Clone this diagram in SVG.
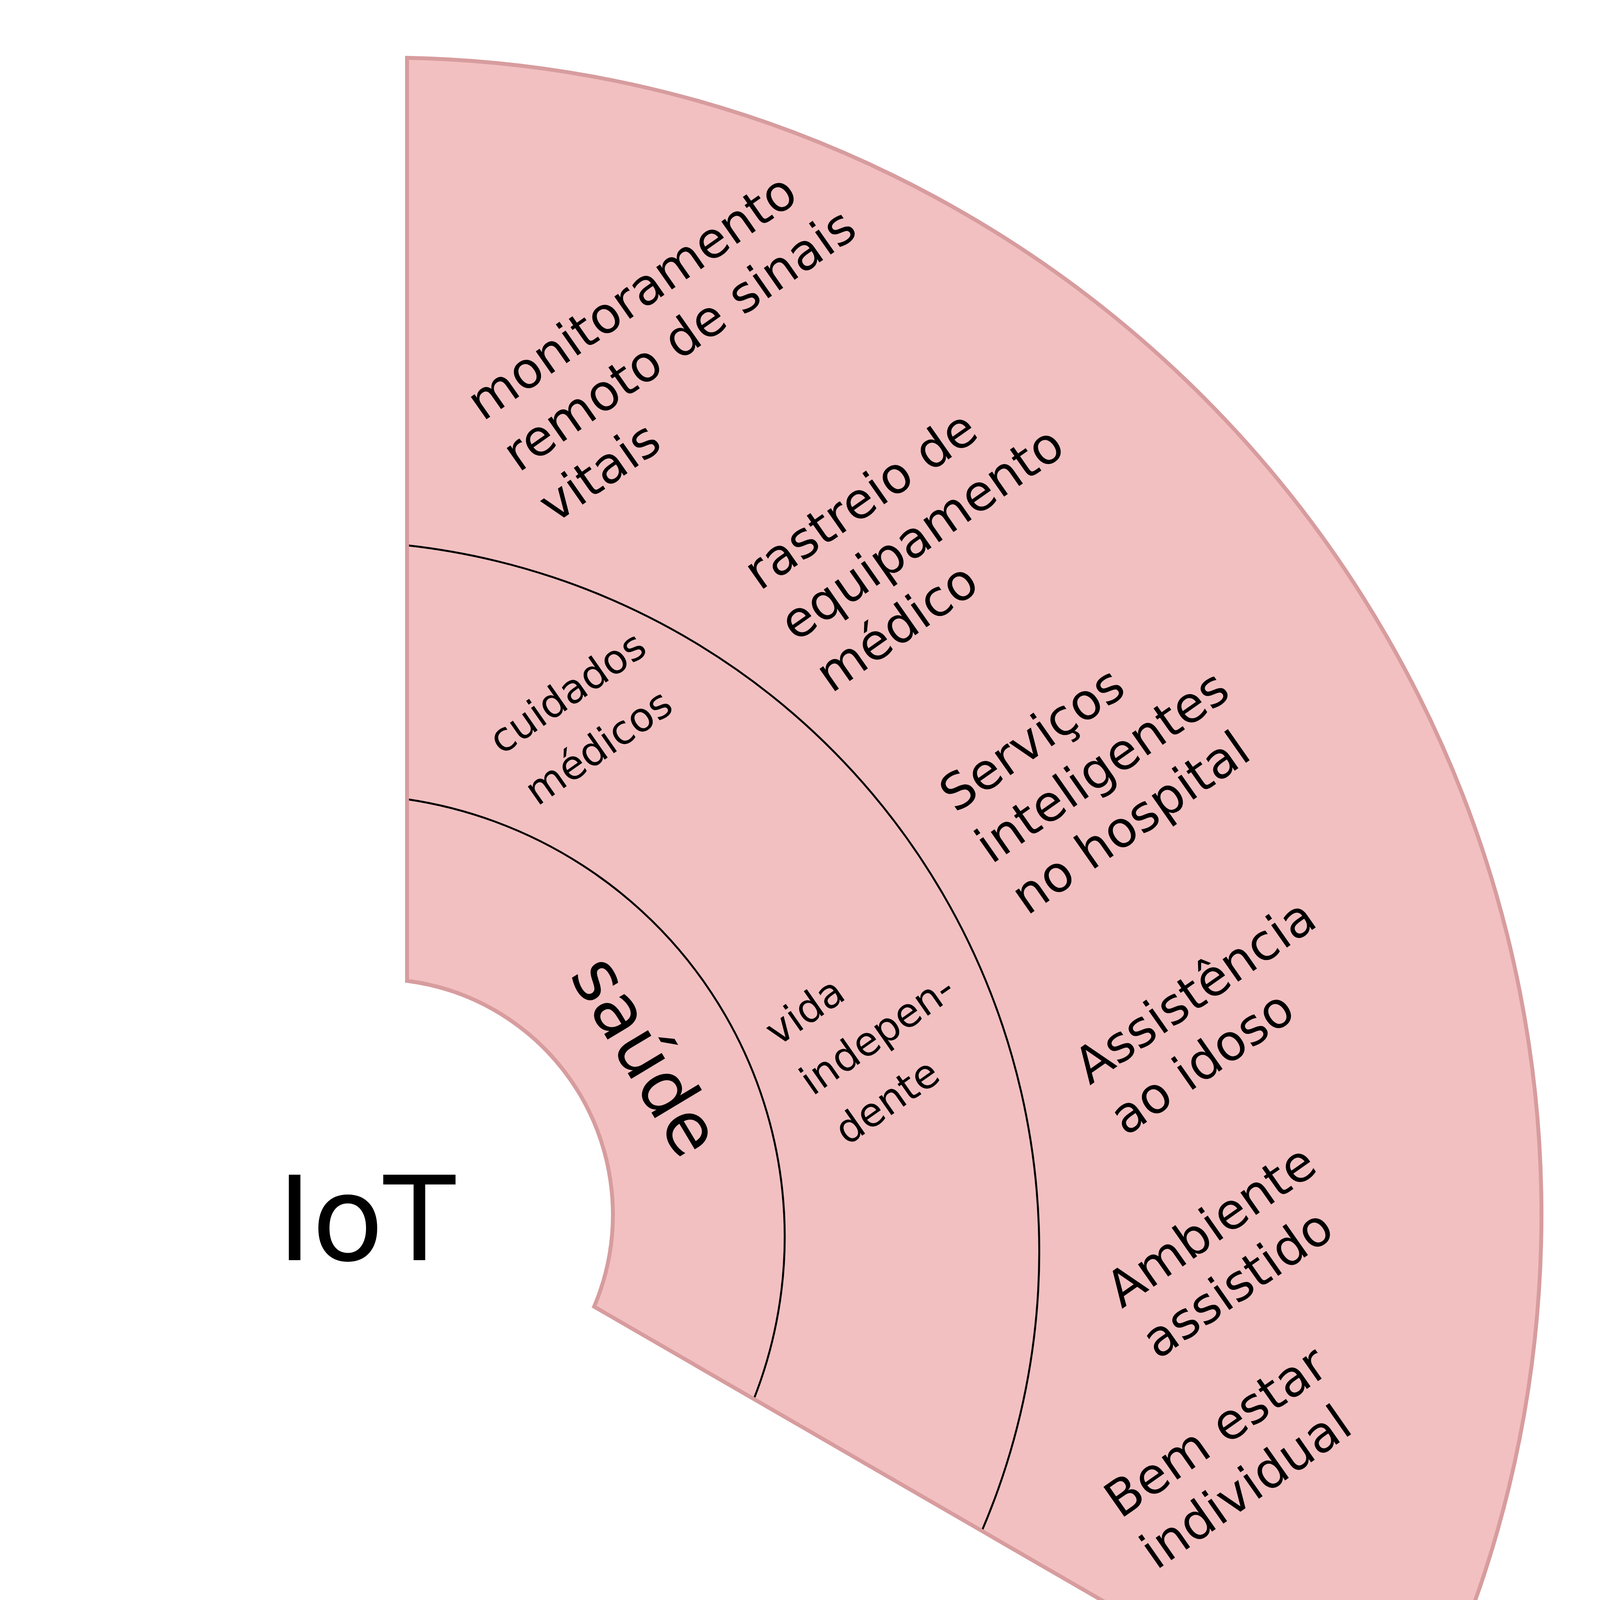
<svg xmlns="http://www.w3.org/2000/svg" width="4687" height="4687" viewBox="0 0 4687 4687">
<defs>
<style>
.lbl{font-family:"DejaVu Sans","Liberation Sans",sans-serif;fill:#000}
.big{font-size:128px}
.small{font-size:103px}
.ring{fill:none;stroke:#000;stroke-width:5}
</style>
<path id="sectorShape" d="M1042,148 A2962,2962 0 0 1 3580,4536 L1521,3345 A603,603 0 0 0 1042,2511 Z"/>
</defs>
<rect width="4687" height="4687" fill="#fff"/>
<g id="sector">
<use href="#sectorShape" fill="#f2c0c1" stroke="none"/>
</g>
<g id="connectors">
<path class="ring" d="M1042,2046 A1132,1132 0 0 1 1930,3581"/>
<path class="ring" d="M1042,1396 A1818,1818 0 0 1 2514,3918"/>
</g>
<g id="sector-outline">
<use href="#sectorShape" fill="none" stroke="#d79c9e" stroke-width="10" stroke-linejoin="miter"/>
</g>
<g id="node-iot">
<text class="lbl" x="710" y="3226" font-size="300">IoT</text>
</g>
<g id="node-saude">
<text class="lbl" transform="translate(1456,2496) rotate(59)" font-size="185">saúde</text>
</g>
<g id="node-cuidados">
<text class="lbl small" transform="translate(1284,1934) rotate(-35)"><tspan x="0" y="0">cuidados</tspan><tspan x="0" dy="160">médicos</tspan></text>
</g>
<g id="node-vida">
<text class="lbl small" transform="translate(1991,2680) rotate(-35)"><tspan x="0" y="0">vida</tspan><tspan x="0" dy="155">indepen-</tspan><tspan x="0" dy="155">dente</tspan></text>
</g>
<g id="node-monitoramento">
<text class="lbl big" transform="translate(1236,1080) rotate(-35)"><tspan x="0" y="0">monitoramento</tspan><tspan x="0" dy="160">remoto de sinais</tspan><tspan x="0" dy="160">vitais</tspan></text>
</g>
<g id="node-rastreio">
<text class="lbl big" transform="translate(1945,1514) rotate(-35)"><tspan x="0" y="0">rastreio de</tspan><tspan x="0" dy="160">equipamento</tspan><tspan x="0" dy="160">médico</tspan></text>
</g>
<g id="node-servicos">
<text class="lbl big" transform="translate(2446,2083) rotate(-35)"><tspan x="0" y="0">Serviços</tspan><tspan x="0" dy="160">inteligentes</tspan><tspan x="0" dy="160">no hospital</tspan></text>
</g>
<g id="node-assistencia">
<text class="lbl big" transform="translate(2790,2779) rotate(-35)"><tspan x="0" y="0">Assistência</tspan><tspan x="0" dy="160">ao idoso</tspan></text>
</g>
<g id="node-ambiente">
<text class="lbl big" transform="translate(2872,3351) rotate(-35)"><tspan x="0" y="0">Ambiente</tspan><tspan x="0" dy="160">assistido</tspan></text>
</g>
<g id="node-bemestar">
<text class="lbl big" transform="translate(2868,3890) rotate(-35)"><tspan x="0" y="0">Bem estar</tspan><tspan x="0" dy="160">individual</tspan></text>
</g>
</svg>
